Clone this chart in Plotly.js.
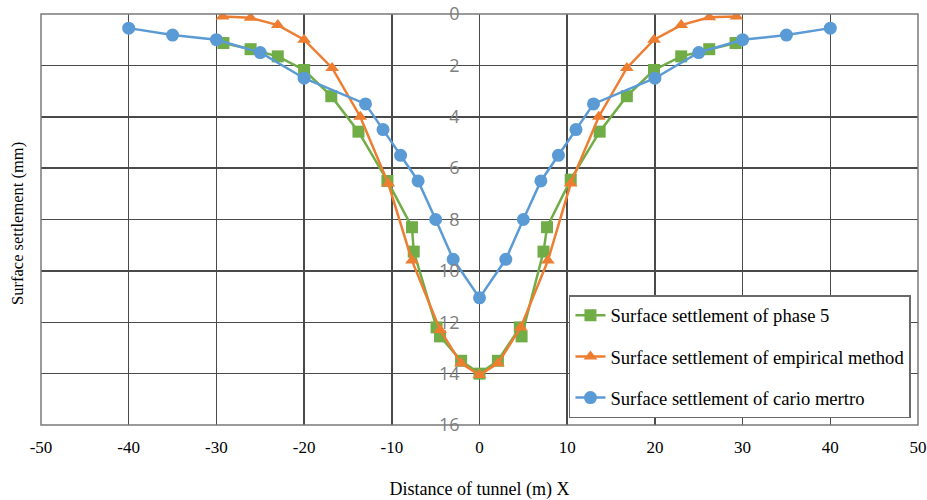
<!DOCTYPE html>
<html><head><meta charset="utf-8">
<script src="https://cdn.plot.ly/plotly-3.0.1.min.js"></script>
<style>body{margin:0;background:#fff}#c{width:927px;height:500px}</style>
</head><body><div id="c"></div>
<script>
const phaseX = [-29.2,-26.1,-23,-20,-16.9,-13.8,-10.5,-7.7,-7.5,-4.9,-4.5,-2.1,0,2.1,4.6,4.8,7.3,7.7,10.4,13.7,16.8,19.9,23,26.2,29.2];
const phaseY = [1.13,1.37,1.65,2.18,3.2,4.58,6.5,8.3,9.25,12.2,12.55,13.5,14,13.5,12.2,12.55,9.25,8.3,6.45,4.58,3.2,2.18,1.65,1.37,1.13];
const empX = [-29.3,-26.1,-23,-20,-16.8,-13.6,-10.4,-7.7,-4.5,-2.1,0,2.1,4.7,7.8,10.4,13.6,16.8,19.9,23,26.2,29.3];
const empY = [0.1,0.15,0.43,1.0,2.1,4.0,6.6,9.6,12.3,13.6,14.05,13.6,12.2,9.6,6.6,4.0,2.1,1.0,0.43,0.13,0.1];
const cairoX = [-40,-35,-30,-25,-20,-13,-11,-9,-7,-5,-3,0,3,5,7,9,11,13,20,25,30,35,40];
const cairoY = [0.55,0.82,1.0,1.5,2.5,3.5,4.5,5.5,6.5,8,9.55,11.05,9.55,8,6.5,5.5,4.5,3.5,2.5,1.5,1.0,0.82,0.55];
const names = ["Surface settlement of phase 5","Surface settlement of empirical method","Surface settlement of cario mertro"];
const xTicks = [-50,-40,-30,-20,-10,0,10,20,30,40,50];
const yTicks = [0,2,4,6,8,10,12,14,16];

const traces = [
 {x:phaseX,y:phaseY,name:names[0],legendgroup:'a',mode:'lines+markers',line:{color:'#70AD47',width:2.5},marker:{symbol:'square',size:12,color:'#70AD47'}},
 {x:empX,y:empY,name:names[1],legendgroup:'b',mode:'lines+markers',line:{color:'#ED7D31',width:2.5},marker:{symbol:'triangle-up',size:12,color:'#ED7D31'}},
 {x:cairoX,y:cairoY,name:names[2],legendgroup:'c',mode:'lines+markers',line:{color:'#5B9BD5',width:2.5},marker:{symbol:'circle',size:13,color:'#5B9BD5'}}
];
const layout = {
 width:927,height:500,margin:{l:41,r:9,t:14,b:75},
 paper_bgcolor:'#fff',plot_bgcolor:'#fff',
 xaxis:{range:[-50,50],tickvals:xTicks,ticktext:xTicks.map(String),showgrid:true,gridcolor:'#4a4a4a',gridwidth:1.5,zeroline:false,showline:false,ticks:'',ticklabelstandoff:10,ticklabeloverflow:'allow',
   tickfont:{family:'Liberation Serif',size:17,color:'#000'},
   title:{text:'Distance of tunnel (m) X',font:{family:'Liberation Serif',size:18,color:'#000'},standoff:26}},
 yaxis:{range:[16,0],tickvals:yTicks,anchor:'free',position:0.5,showgrid:true,gridcolor:'#4a4a4a',gridwidth:1.5,zeroline:false,showline:false,ticks:'',ticklabelstandoff:20,
   tickfont:{family:'Open Sans',size:18,color:'#808080'}},
 showlegend:true,
 legend:{x:0.602,y:0.316,xanchor:'left',yanchor:'top',bgcolor:'#fff',bordercolor:'#6a6a6a',borderwidth:1.5,traceorder:'grouped',tracegroupgap:14,
   font:{family:'Liberation Serif',size:18.6,color:'#000'}},
 shapes:[{type:'rect',xref:'paper',yref:'paper',x0:0,x1:1,y0:0,y1:1,line:{color:'#7a7a7a',width:1.5}}],
 annotations:[{text:'Surface settlement (mm)',xref:'paper',yref:'paper',x:-0.027,y:0.49,xanchor:'center',yanchor:'middle',textangle:-90,showarrow:false,
   font:{family:'Liberation Serif',size:16.5,color:'#000'}}]
};
Plotly.newPlot('c',traces,layout,{displayModeBar:false,staticPlot:true});
</script></body></html>
